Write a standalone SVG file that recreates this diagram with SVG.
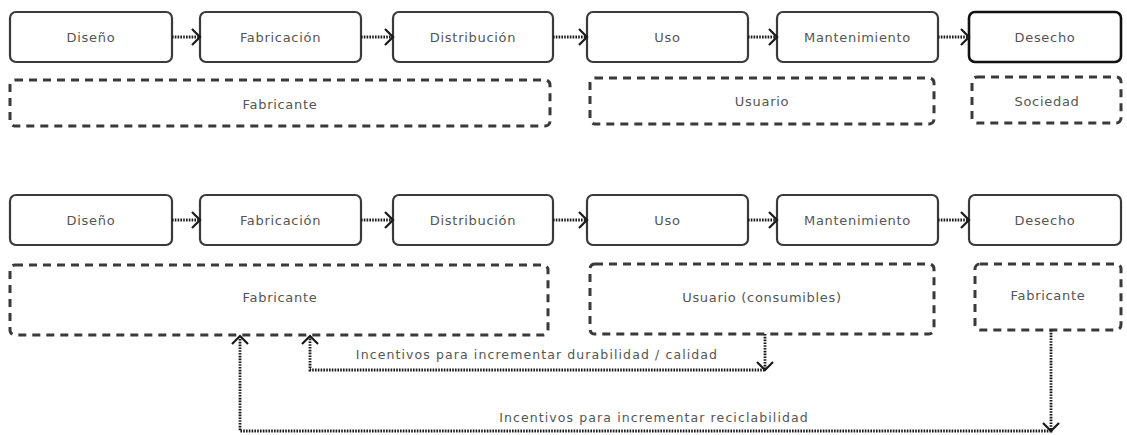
<svg xmlns="http://www.w3.org/2000/svg" width="1127" height="435" viewBox="0 0 1127 435">
<style>
.box{fill:#fff;stroke:#3a3a3a;stroke-width:2.2}
.box.strong{stroke:#111;stroke-width:2.6}
.grp{fill:none;stroke:#3a3a3a;stroke-width:3;stroke-dasharray:8 6}
.t{font-family:"DejaVu Sans",sans-serif;font-size:13px;fill:#555;text-anchor:middle;letter-spacing:0.7px}
.lbl{font-family:"DejaVu Sans",sans-serif;font-size:12.5px;fill:#555;text-anchor:middle;letter-spacing:1.1px}
.dot{fill:none;stroke:#1a1a1a;stroke-width:2.8;stroke-dasharray:1.6 1.2}
.chev{fill:none;stroke:#1a1a1a;stroke-width:2.2;stroke-linejoin:miter}
</style>
<rect width="1127" height="435" fill="#fff"/>
<!-- Row 1 -->
<g id="r1-diseno"><rect class="box" x="10" y="12" width="162" height="50" rx="6"/><text class="t" x="91" y="42">Diseño</text></g>
<g id="r1-fabricacion"><rect class="box" x="200" y="12" width="161" height="50" rx="6"/><text class="t" x="280.5" y="42">Fabricación</text></g>
<g id="r1-distribucion"><rect class="box" x="393" y="12" width="160" height="50" rx="6"/><text class="t" x="473" y="42">Distribución</text></g>
<g id="r1-uso"><rect class="box" x="587" y="12" width="161" height="50" rx="6"/><text class="t" x="667.5" y="42">Uso</text></g>
<g id="r1-mantenimiento"><rect class="box" x="777" y="12" width="161" height="50" rx="6"/><text class="t" x="857.5" y="42">Mantenimiento</text></g>
<g id="r1-desecho"><rect class="box strong" x="969" y="12" width="152" height="50" rx="6"/><text class="t" x="1045" y="42">Desecho</text></g>
<g id="r1-fabricante"><rect class="grp" x="10" y="80" width="540" height="46" rx="5"/><text class="t" x="280" y="109">Fabricante</text></g>
<g id="r1-usuario"><rect class="grp" x="590" y="78" width="344" height="46" rx="5"/><text class="t" x="762" y="106">Usuario</text></g>
<g id="r1-sociedad"><rect class="grp" x="972" y="77" width="149" height="46" rx="5"/><text class="t" x="1047" y="106">Sociedad</text></g>
<!-- Row 2 -->
<g id="r2-diseno"><rect class="box" x="10" y="195" width="162" height="50" rx="6"/><text class="t" x="91" y="225">Diseño</text></g>
<g id="r2-fabricacion"><rect class="box" x="200" y="195" width="161" height="50" rx="6"/><text class="t" x="280.5" y="225">Fabricación</text></g>
<g id="r2-distribucion"><rect class="box" x="393" y="195" width="160" height="50" rx="6"/><text class="t" x="473" y="225">Distribución</text></g>
<g id="r2-uso"><rect class="box" x="587" y="195" width="161" height="50" rx="6"/><text class="t" x="667.5" y="225">Uso</text></g>
<g id="r2-mantenimiento"><rect class="box" x="777" y="195" width="161" height="50" rx="6"/><text class="t" x="857.5" y="225">Mantenimiento</text></g>
<g id="r2-desecho"><rect class="box" x="969" y="195" width="152" height="50" rx="6"/><text class="t" x="1045" y="225">Desecho</text></g>
<g id="r2-fabricante"><rect class="grp" x="10" y="265" width="538" height="70" rx="5"/><text class="t" x="280" y="302">Fabricante</text></g>
<g id="r2-usuario"><rect class="grp" x="590" y="264" width="344" height="70" rx="5"/><text class="t" x="762" y="302">Usuario (consumibles)</text></g>
<g id="r2-fabricante-2"><rect class="grp" x="975" y="264" width="146" height="66" rx="5"/><text class="t" x="1048" y="300">Fabricante</text></g>
<!-- Connectors -->
<g id="connectors">
  <path class="dot" d="M172 37H199M361 37H392M553 37H586M748 37H776M938 37H968"/>
  <path class="chev" d="M192 29L200 37L192 45M385 29L393 37L385 45M579 29L587 37L579 45M769 29L777 37L769 45M961 29L969 37L961 45"/>
  <path class="dot" d="M172 220H199M361 220H392M553 220H586M748 220H776M938 220H968"/>
  <path class="chev" d="M192 212L200 220L192 228M385 212L393 220L385 228M579 212L587 220L579 228M769 212L777 220L769 228M961 212L969 220L961 228"/>
  <path class="dot" d="M765 334V370H310V337"/>
  <path class="chev" d="M302 344L310 336L318 344M757 362L765 370L773 362"/>
  <path class="dot" d="M1051 330V431H240V337"/>
  <path class="chev" d="M232 344L240 336L248 344M1043 423L1051 431L1059 423"/>
  <text class="lbl" x="537" y="359">Incentivos para incrementar durabilidad / calidad</text>
  <text class="lbl" x="654" y="422">Incentivos para incrementar reciclabilidad</text>
</g>
</svg>
